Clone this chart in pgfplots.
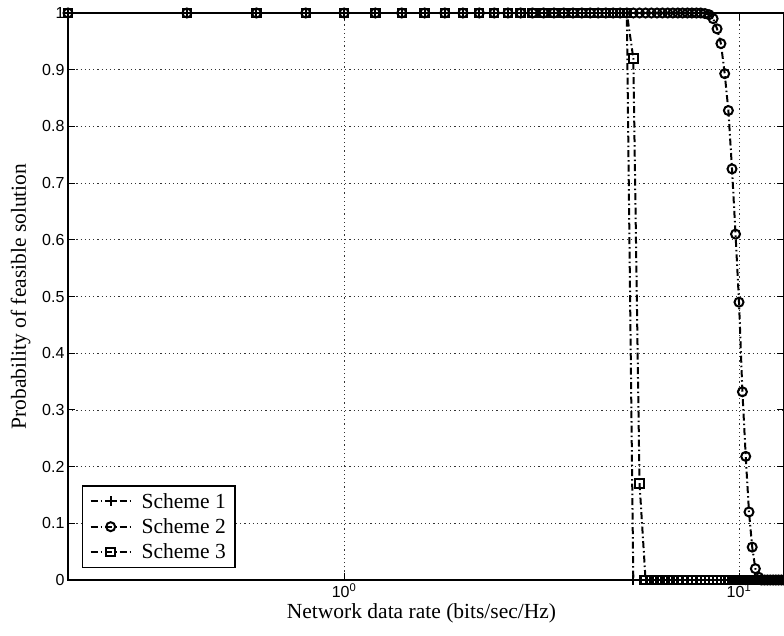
\documentclass[border=0pt]{standalone}
\usepackage{pgfplots}
\pgfplotsset{compat=1.18}
\usepackage{pgfplotstable}
\usepackage{fontspec}
\setmainfont{Liberation Serif}
\setsansfont{Liberation Sans}
\usetikzlibrary{calc}

% Probability of a feasible solution against the network data rate
\pgfplotstableread{
x     s1   s2     s3
0.2   1    1      1
0.4   1    1      1
0.6   1    1      1
0.8   1    1      1
1.0   1    1      1
1.2   1    1      1
1.4   1    1      1
1.6   1    1      1
1.8   1    1      1
2.0   1    1      1
2.2   1    1      1
2.4   1    1      1
2.6   1    1      1
2.8   1    1      1
3.0   1    1      1
3.2   1    1      1
3.4   1    1      1
3.6   1    1      1
3.8   1    1      1
4.0   1    1      1
4.2   1    1      1
4.4   1    1      1
4.6   1    1      1
4.8   1    1      1
5.0   1    1      1
5.2   1    1      1
5.4   0    1      0.92
5.6   0    1      0.17
5.8   0    1      0
6.0   0    1      0
6.2   0    1      0
6.4   0    1      0
6.6   0    1      0
6.8   0    1      0
7.0   0    1      0
7.2   0    1      0
7.4   0    1      0
7.6   0    1      0
7.8   0    1      0
8.0   0    1      0
8.2   0    0.999  0
8.4   0    0.997  0
8.6   0    0.99   0
8.8   0    0.972  0
9.0   0    0.946  0
9.2   0    0.893  0
9.4   0    0.828  0
9.6   0    0.725  0
9.8   0    0.61   0
10.0  0    0.49   0
10.2  0    0.332  0
10.4  0    0.218  0
10.6  0    0.12   0
10.8  0    0.058  0
11.0  0    0.02   0
11.2  0    0.005  0
11.4  0    0      0
11.6  0    0      0
11.8  0    0      0
12.0  0    0      0
12.2  0    0      0
12.4  0    0      0
12.6  0    0      0
12.8  0    0      0
13.0  0    0      0
}\feasible

\begin{document}
\begin{tikzpicture}
\begin{axis}[
  xmode=log, log basis x=10,
  scale only axis, width=716pt, height=567pt,
  xmin=0.2, xmax=13, ymin=0, ymax=1,
  xtick={1,10},
  xticklabels={10\textsuperscript{0},10\textsuperscript{1}},
  ytick={0,0.1,0.2,0.3,0.4,0.5,0.6,0.7,0.8,0.9,1},
  yticklabels={0,0.1,0.2,0.3,0.4,0.5,0.6,0.7,0.8,0.9,1},
  tick align=inside,
  major tick length=7pt, minor tick length=4pt,
  tick style={black, line width=0.9pt},
  axis line style={line width=1.4pt},
  xmajorgrids, xminorgrids, ymajorgrids,
  major grid style={dash pattern=on 1.2pt off 3pt, black!80, line width=0.8pt},
  minor grid style={dash pattern=on 1.2pt off 3pt, black!80, line width=0.8pt},
  ticklabel style={font=\sffamily\fontsize{16}{18}\selectfont},
  xlabel={Network data rate (bits/sec/Hz)},
  ylabel={Probability of feasible solution},
  label style={font=\fontsize{21.5}{24}\selectfont, inner sep=0pt},
  xlabel style={at={(axis description cs:0.4937,-0.068)}, anchor=base},
  ylabel style={at={(axis description cs:-0.0587,0.5)}, anchor=base},
  legend style={at={(axis description cs:0.0196,0.0212)}, anchor=south west,
    font=\fontsize{21.5}{24}\selectfont, draw=black, line width=1.3pt,
    inner xsep=7pt, inner ysep=5pt, row sep=5pt, column sep=8pt},
  legend cell align=left,
  legend image code/.code={\draw[mark repeat=2,mark phase=2,#1]
    plot coordinates {(0pt,0pt) (20pt,0pt) (40pt,0pt)};},
  dashdot/.style={black, line width=2pt,
    dash pattern=on 7pt off 3pt on 1.5pt off 3pt},
]
\addplot[dashdot, mark=+, mark size=5pt, mark options={solid, line width=2pt}]
  table[x=x, y=s1] {\feasible};
\addlegendentry{Scheme 1}
\addplot[dashdot, mark=o, mark size=4.5pt, mark options={solid, line width=2pt, fill=none}]
  table[x=x, y=s2] {\feasible};
\addlegendentry{Scheme 2}
\addplot[dashdot, mark=square, mark size=4.2pt, mark options={solid, line width=2pt, fill=none}]
  table[x=x, y=s3] {\feasible};
\addlegendentry{Scheme 3}
\end{axis}
\pgfresetboundingbox
\path[use as bounding box] ($(current axis.south west)+(-68pt,-55pt)$)
  rectangle ($(current axis.north east)+(0pt,13pt)$);
\end{tikzpicture}
\end{document}
